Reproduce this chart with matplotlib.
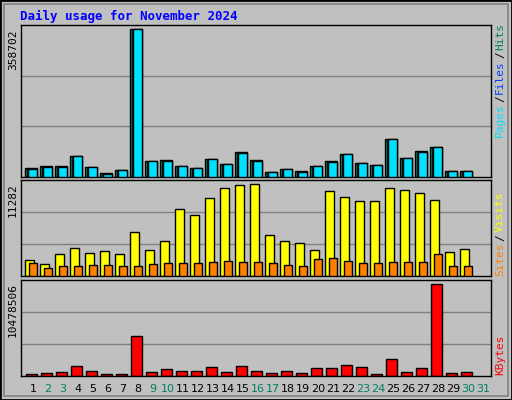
import matplotlib
matplotlib.use("Agg")
import matplotlib.pyplot as plt
import numpy as np

days = np.arange(1, 31)
day_labels = [str(d) for d in range(1, 32)]
weekend = {2, 3, 9, 10, 16, 17, 23, 24, 30, 31}

# values
hits = [22700, 27600, 27600, 50300, 25200, 10500, 17900, 358702, 39800, 42200,
        27600, 22700, 44600, 32500, 61700, 42200, 13000, 20300, 15400, 27600,
        39800, 56800, 34900, 30000, 93300, 47100, 64100, 72200, 15400, 15400]
files = [20300, 25200, 25200, 50300, 25200, 8100, 17900, 358702, 39800, 39800,
         27600, 22700, 44600, 32500, 59200, 39800, 13000, 20300, 13000, 27600,
         37300, 56800, 34900, 30000, 93300, 47100, 61700, 72200, 15400, 15400]
pages = files
visits = [1960, 1470, 2700, 3430, 2820, 3060, 2700, 5400, 3180, 4290,
          8210, 7480, 9560, 10790, 11160, 11282, 5030, 4290, 4050, 3180,
          10420, 9680, 9190, 9190, 10790, 10540, 10180, 9310, 2940, 3310]
sites = [1590, 980, 1230, 1230, 1350, 1350, 1230, 1230, 1470, 1590,
         1590, 1590, 1720, 1840, 1720, 1720, 1590, 1350, 1230, 2080,
         2210, 1840, 1590, 1590, 1720, 1720, 1720, 2700, 1230, 1230]
kbytes = [270000, 390000, 500000, 1180000, 610000, 270000, 270000, 4510000, 500000, 840000,
          610000, 610000, 1070000, 500000, 1180000, 610000, 390000, 610000, 390000, 950000,
          950000, 1300000, 1070000, 270000, 1950000, 500000, 950000, 10478506, 390000, 500000]

BG = "#C0C0C0"
W, H = 512, 400
fig = plt.figure(figsize=(W / 100, H / 100), dpi=100, facecolor=BG)
fig.patches.append(plt.Rectangle((0, 0), 1, 1, transform=fig.transFigure,
                                 fill=False, edgecolor="black", linewidth=2))
fig.patches.append(plt.Rectangle((4 / W, 4 / H), 1 - 8 / W, 1 - 8 / H, transform=fig.transFigure,
                                 fill=False, edgecolor="#808080", linewidth=1.2))
MONO = "DejaVu Sans Mono"


def panel(top, bottom):
    ax = fig.add_axes([21 / W, 1 - bottom / H, 470 / W, (bottom - top) / H])
    ax.set_facecolor(BG)
    ax.set_xlim(0.2, 31.53)
    ax.set_xticks([])
    ax.set_yticks([])
    for s in ax.spines.values():
        s.set_color("black")
        s.set_linewidth(1)
    return ax


def grid(ax, ymax):
    for f in (1 / 3, 2 / 3):
        ax.axhline(ymax * f, color="#808080", linewidth=1, zorder=0)


fig.text(20 / W, 1 - 16 / H, "Daily usage for November 2024", color="#0000FF",
         fontsize=9, fontweight="bold", family=MONO, va="center")

# top panel
ax1 = panel(25, 177)
ym1 = 358702 * 151.7 / 147.3
ax1.set_ylim(0, ym1)
grid(ax1, ym1)
ax1.bar(days - 0.53, hits, width=0.78, align="edge", color="#00805C", edgecolor="black", linewidth=1, zorder=2)
ax1.bar(days - 0.43, files, width=0.7, align="edge", color="#0040FF", edgecolor="black", linewidth=0.6, zorder=3)
ax1.bar(days - 0.31, pages, width=0.56, align="edge", color="#00E0FF", edgecolor="black", linewidth=1, zorder=4)

# middle panel
ax2 = panel(180, 276)
ym2 = 11282 * 96 / 92
ax2.set_ylim(0, ym2)
grid(ax2, ym2)
ax2.bar(days - 0.53, visits, width=0.57, align="edge", color="#FFFF00", edgecolor="black", linewidth=1, zorder=2)
ax2.bar(days - 0.27, sites, width=0.52, align="edge", color="#FF8000", edgecolor="black", linewidth=1, zorder=3)

# bottom panel
ax3 = panel(280, 376)
ym3 = 10478506 * 95.3 / 91.3
ax3.set_ylim(0, ym3)
grid(ax3, ym3)
ax3.bar(days - 0.47, kbytes, width=0.72, align="edge", color="#FF0000", edgecolor="black", linewidth=1, zorder=2)

# left max labels
for y, s in ((29, "358702"), (183, "11282"), (283, "10478506")):
    fig.text(13 / W, 1 - y / H, s, rotation=90, fontsize=8, family=MONO, ha="center", va="top")

renderer = fig.canvas.get_renderer()


# right legends, reading bottom to top
def vlegend(y_bottom, parts):
    yy = 1 - y_bottom / H
    for txt, col in parts:
        t = fig.text(500 / W, yy, txt, rotation=90, fontsize=8, family=MONO,
                     color=col, ha="center", va="bottom")
        bb = t.get_window_extent(renderer)
        yy += bb.height / H + 1.5 / H


vlegend(137, [("Pages", "#00E0FF"), ("/", "black"), ("Files", "#0040FF"), ("/", "black"), ("Hits", "#00805C")])
vlegend(276, [("Sites", "#FF8000"), ("/", "black"), ("Visits", "#FFFF00")])
vlegend(375, [("KBytes", "#FF0000")])

# day labels
for i, lab in enumerate(day_labels):
    x = 21 + (i + 1 - 0.2) * 15
    fig.text(x / W, 1 - 389 / H, lab, fontsize=8, ha="center", va="center",
             color="#008060" if (i + 1) in weekend else "black")

fig.savefig("out.png", dpi=100, facecolor=BG)
